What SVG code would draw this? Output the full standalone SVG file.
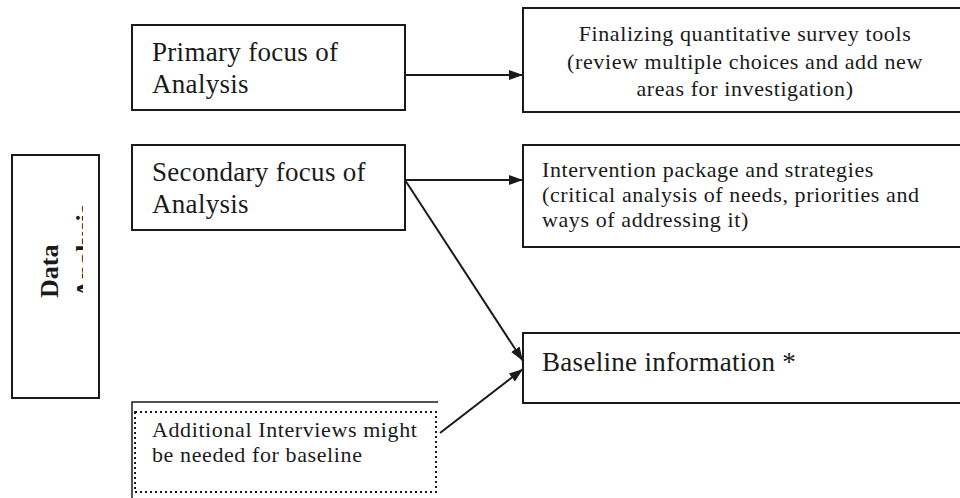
<svg xmlns="http://www.w3.org/2000/svg" width="960" height="498" viewBox="0 0 960 498">
  <style>
    .box { fill: #fff; stroke: #1a1a1a; stroke-width: 2; }
    .dot { fill: none; stroke: #1a1a1a; stroke-width: 2; stroke-dasharray: 2 3; }
    .big { font-family: "Liberation Serif", "Times New Roman", serif; font-size: 27px; letter-spacing: 0.3px; fill: #1a1a1a; }
    .small { font-family: "Liberation Serif", "Times New Roman", serif; font-size: 22px; letter-spacing: 0.6px; fill: #1a1a1a; }
    .side { font-family: "Liberation Serif", "Times New Roman", serif; font-size: 26px; font-weight: bold; fill: #1a1a1a; }
    .link { fill: none; stroke: #1a1a1a; stroke-width: 2; }
  </style>
  <defs>
    <marker id="arrow" viewBox="0 0 14 10" refX="14" refY="5" markerWidth="14" markerHeight="10" markerUnits="userSpaceOnUse" orient="auto">
      <path d="M0,0 L14,5 L0,10 Z" fill="#1a1a1a"/>
    </marker>
    <clipPath id="sideClip">
      <rect x="12" y="155" width="71" height="243"/>
    </clipPath>
  </defs>
  <rect width="960" height="498" fill="#fff"/>

  <g id="data-analysis">
    <rect class="box" x="12" y="155" width="87" height="243"/>
    <g clip-path="url(#sideClip)">
      <text class="side" transform="translate(58,298) rotate(-90)">Data</text>
      <text class="side" transform="translate(94,298) rotate(-90)">Analysis</text>
    </g>
  </g>

  <g id="primary-focus">
    <rect class="box" x="132" y="25" width="273" height="85"/>
    <text class="big" x="152" y="61">Primary focus of</text>
    <text class="big" x="152" y="93">Analysis</text>
  </g>

  <g id="secondary-focus">
    <rect class="box" x="132" y="145" width="273" height="85"/>
    <text class="big" x="152" y="181">Secondary focus of</text>
    <text class="big" x="152" y="213">Analysis</text>
  </g>

  <g id="additional-interviews">
    <path d="M132,498 V402 H438" fill="none" stroke="#1a1a1a" stroke-width="1.5"/>
    <rect class="dot" x="135" y="412" width="301" height="80"/>
    <text class="small" x="152" y="437">Additional Interviews might</text>
    <text class="small" x="152" y="462">be needed for baseline</text>
  </g>

  <g id="survey-tools">
    <rect class="box" x="523" y="8" width="445" height="104"/>
    <text class="small" x="745" y="41" text-anchor="middle">Finalizing quantitative survey tools</text>
    <text class="small" x="745" y="69" text-anchor="middle">(review multiple choices and add new</text>
    <text class="small" x="745" y="96" text-anchor="middle">areas for investigation)</text>
  </g>

  <g id="intervention-package">
    <rect class="box" x="523" y="145" width="445" height="102"/>
    <text class="small" x="542" y="177">Intervention package and strategies</text>
    <text class="small" x="542" y="202">(critical analysis of needs, priorities and</text>
    <text class="small" x="542" y="227">ways of addressing it)</text>
  </g>

  <g id="baseline-information">
    <rect class="box" x="523" y="333" width="445" height="70"/>
    <text class="big" x="542" y="371">Baseline information *</text>
  </g>

  <g id="connectors">
    <line class="link" x1="405" y1="75" x2="523" y2="75" marker-end="url(#arrow)"/>
    <line class="link" x1="405" y1="180" x2="523" y2="180" marker-end="url(#arrow)"/>
    <line class="link" x1="405" y1="180" x2="523" y2="361" marker-end="url(#arrow)"/>
    <line class="link" x1="440" y1="433" x2="523" y2="369" marker-end="url(#arrow)"/>
  </g>
</svg>
